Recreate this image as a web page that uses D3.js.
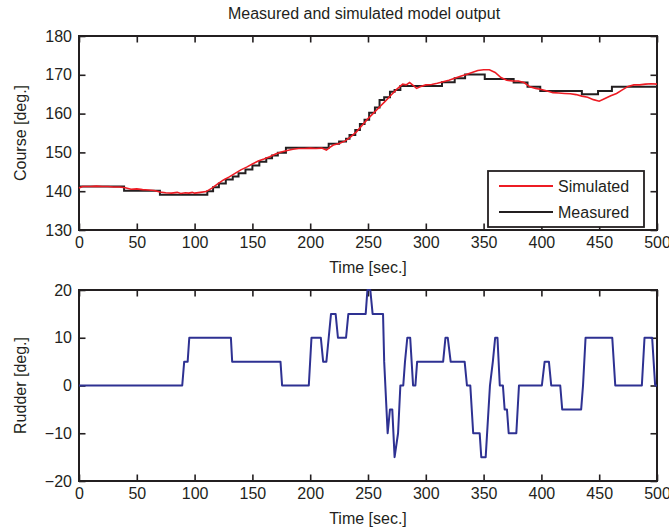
<!DOCTYPE html>
<html>
<head>
<meta charset="utf-8">
<script src="https://cdn.jsdelivr.net/npm/d3@7"></script>
<style>
  body { margin: 0; background: #fff; }
</style>
</head>
<body>
<div id="chart-container"></div>
<script>
// tick labels
const timeTicks = [0, 50, 100, 150, 200, 250, 300, 350, 400, 450, 500];
const courseTicks = [130, 140, 150, 160, 170, 180];
const rudderTicks = [-20, -10, 0, 10, 20];

// measured course, [time, deg] held until next point
const measured = [
    [0, 141.2], [39, 140.1], [70, 139.1], [111, 140.0], [116, 141.0], [121, 142.0], [127, 143.0],
    [133, 143.8], [138, 144.6], [144, 145.6], [150, 146.6], [156, 147.6], [162, 148.5], [167, 149.2],
    [172, 149.9], [179, 151.2], [216, 152.2], [225, 152.8], [231, 153.5], [234, 154.5], [239, 155.8],
    [243, 157.3], [247, 158.4], [251, 160.2], [256, 161.6], [260, 163.5], [264, 164.2], [269, 165.6],
    [273, 166.1], [278, 167.1], [314, 168.1], [325, 169.1], [334, 170.1], [351, 168.9], [376, 168.0],
    [388, 166.9], [399, 165.8], [435, 165.0], [449, 165.8], [461, 166.9], [500, 166.9]
];

// simulated course, [time, deg]
const simulated = [
    [0, 140.8], [3, 141.2], [10, 141.2], [15, 141.3], [20, 141.2], [25, 141.2], [30, 141.1], [35, 141.1],
    [40, 140.9], [45, 140.5], [50, 140.6], [55, 140.4], [60, 140.3], [65, 140.2], [70, 139.8], [75, 139.6],
    [80, 139.5], [85, 139.7], [88, 139.4], [92, 139.6], [95, 139.5], [98, 139.7], [100, 139.5], [105, 139.7],
    [110, 139.9], [115, 140.8], [120, 141.9], [125, 142.9], [130, 143.7], [135, 144.6], [140, 145.5],
    [145, 146.2], [150, 147.0], [155, 147.8], [160, 148.3], [165, 148.9], [170, 149.6], [175, 150.1],
    [180, 150.5], [185, 150.8], [190, 151.0], [195, 151.0], [200, 151.1], [205, 151.0], [210, 151.1],
    [214, 150.6], [217, 151.3], [220, 151.9], [225, 152.3], [230, 152.9], [235, 154.0], [240, 155.3],
    [245, 157.0], [250, 158.7], [255, 160.2], [260, 161.7], [265, 163.2], [270, 164.8], [275, 166.3],
    [280, 167.6], [283, 167.4], [286, 168.0], [289, 167.3], [292, 166.5], [295, 166.9], [300, 167.4],
    [305, 167.5], [310, 167.8], [315, 168.2], [320, 168.6], [325, 169.1], [330, 169.6], [335, 170.1],
    [340, 170.6], [345, 171.1], [350, 171.3], [355, 171.3], [360, 170.6], [365, 169.3], [370, 168.6],
    [375, 168.4], [380, 168.4], [385, 168.0], [390, 166.9], [395, 166.5], [400, 166.2], [405, 165.8],
    [410, 165.4], [415, 165.3], [420, 165.2], [425, 165.1], [430, 164.9], [435, 164.5], [440, 164.2],
    [445, 163.6], [450, 163.2], [455, 163.9], [460, 164.6], [465, 165.2], [470, 166.1], [475, 167.0],
    [480, 167.4], [485, 167.4], [490, 167.6], [495, 167.7], [500, 167.6]
];

// rudder angle, [time, deg]
const rudder = [
    [0, 0], [89.3, 0], [91, 5], [94, 5], [95.4, 10], [131.4, 10], [132.5, 5], [174.3, 5], [175.7, 0],
    [198.8, 0], [201.1, 10], [209.2, 10], [211.2, 5], [214, 5], [216, 10], [218, 15], [222, 15],
    [224, 10], [231, 10], [233, 15], [248, 15], [249.5, 20], [252, 20], [254, 15], [263, 15], [264, 5],
    [267, -10], [269, -5], [271, -5], [273, -15], [276, -10], [278, 0], [280.5, 0], [282, 5], [284, 10],
    [286.5, 10], [289, 0], [291, 0], [292.5, 5], [315, 5], [317, 10], [319, 10], [321.5, 5], [333.6, 5],
    [335.6, 0], [338.5, 0], [341, -10], [346.6, -10], [348, -15], [351.8, -15], [355.5, 0], [358, 5],
    [360, 10], [362, 10], [364, 0], [366.7, 0], [368.2, -5], [370.2, -5], [371.7, -10], [378.3, -10],
    [380.6, 0], [400.4, 0], [402.8, 5], [406.5, 5], [408.5, 0], [416.3, 0], [418, -5], [434.4, -5],
    [436, 0], [438.2, 10], [461.3, 10], [463.9, 0], [486.9, 0], [489.2, 10], [495.8, 10], [498.4, 0], [500, 0]
];

const width = 669, height = 530;
const left = 79, right = 657;
const font = "'Liberation Sans', Arial, Helvetica, sans-serif";

const svg = d3.select("#chart-container")
    .append("svg")
    .attr("width", width)
    .attr("height", height)
    .style("font-family", font);

const x = d3.scaleLinear().domain([0, 500]).range([left, right]);

function panel(top, bottom, yTicks, yLabel) {
    const y = d3.scaleLinear().domain([yTicks[0], yTicks[yTicks.length - 1]]).range([bottom, top]);
    const g = svg.append("g");
    const tick = 6.5;

    g.append("g")
        .attr("transform", `translate(0,${bottom})`)
        .call(d3.axisBottom(x).tickValues(timeTicks).tickSizeInner(-tick).tickSizeOuter(0).tickPadding(7));
    g.append("g")
        .attr("transform", `translate(0,${top})`)
        .call(d3.axisTop(x).tickValues(timeTicks).tickSizeInner(-tick).tickSizeOuter(0).tickFormat(""));
    g.append("g")
        .attr("transform", `translate(${left},0)`)
        .call(d3.axisLeft(y).tickValues(yTicks).tickSizeInner(-tick).tickSizeOuter(0).tickPadding(7));
    g.append("g")
        .attr("transform", `translate(${right},0)`)
        .call(d3.axisRight(y).tickValues(yTicks).tickSizeInner(-tick).tickSizeOuter(0).tickFormat(""));

    g.selectAll(".domain").remove();
    g.selectAll(".tick line").attr("stroke", "#231f20").attr("stroke-width", 1.6);
    g.selectAll(".tick text")
        .style("font-family", font)
        .style("font-size", "16px")
        .attr("fill", "#231f20");

    g.append("rect")
        .attr("x", left).attr("y", top)
        .attr("width", right - left).attr("height", bottom - top)
        .attr("fill", "none").attr("stroke", "#231f20").attr("stroke-width", 2);

    // axis labels
    svg.append("text")
        .attr("x", (left + right) / 2)
        .attr("y", bottom + 43)
        .attr("text-anchor", "middle")
        .style("font-size", "16px")
        .attr("fill", "#231f20")
        .text("Time [sec.]");
    svg.append("text")
        .attr("transform", `translate(26,${(top + bottom) / 2}) rotate(-90)`)
        .attr("text-anchor", "middle")
        .style("font-size", "16px")
        .attr("fill", "#231f20")
        .text(yLabel);

    return y;
}

// Course panel
const yCourse = panel(36, 230, courseTicks, "Course [deg.]");

svg.append("path")
    .datum(measured)
    .attr("fill", "none")
    .attr("stroke", "#231f20")
    .attr("stroke-width", 2)
    .attr("d", d3.line().x(d => x(d[0])).y(d => yCourse(d[1])).curve(d3.curveStepAfter));

svg.append("path")
    .datum(simulated)
    .attr("fill", "none")
    .attr("stroke", "#ed1c24")
    .attr("stroke-width", 1.6)
    .attr("d", d3.line().x(d => x(d[0])).y(d => yCourse(d[1])));

// legend
const legend = svg.append("g");
legend.append("rect")
    .attr("x", 488).attr("y", 171).attr("width", 156).attr("height", 56)
    .attr("fill", "#fff").attr("stroke", "#231f20").attr("stroke-width", 1.8);
[["Simulated", "#ed1c24", 186], ["Measured", "#231f20", 212]].forEach(([name, color, ly]) => {
    legend.append("line")
        .attr("x1", 499).attr("x2", 553).attr("y1", ly).attr("y2", ly)
        .attr("stroke", color).attr("stroke-width", 2);
    legend.append("text")
        .attr("x", 558).attr("y", ly).attr("dy", "0.35em")
        .style("font-size", "16px")
        .attr("fill", "#231f20")
        .text(name);
});

// title
svg.append("text")
    .attr("x", 364)
    .attr("y", 19)
    .attr("text-anchor", "middle")
    .style("font-size", "16px")
    .attr("fill", "#231f20")
    .text("Measured and simulated model output");

// Rudder panel
const yRudder = panel(290, 481, rudderTicks, "Rudder [deg.]");

svg.append("path")
    .datum(rudder)
    .attr("fill", "none")
    .attr("stroke", "#2e3192")
    .attr("stroke-width", 2)
    .attr("stroke-linejoin", "round")
    .attr("d", d3.line().x(d => x(d[0])).y(d => yRudder(d[1])));
</script>
</body>
</html>
